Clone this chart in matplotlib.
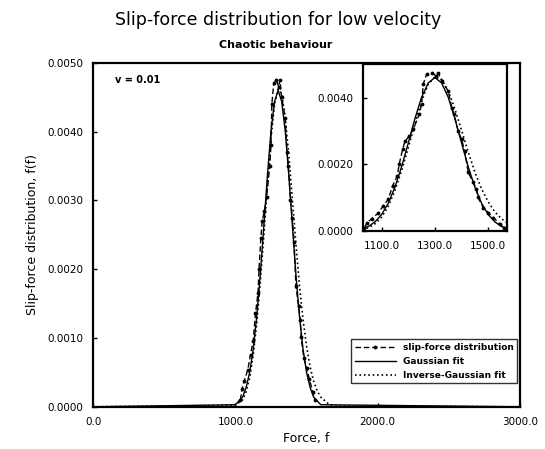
"""
Slip-force distribution for low velocity (chaotic behaviour), v = 0.01.
Main panel with the full force range and an inset zoomed on the peak.
"""

import matplotlib

matplotlib.use("Agg")  # Non-interactive backend
import matplotlib.pyplot as plt

# Measured slip-force distribution (force f, distribution f(f))
dist_force = [
    1035, 1046, 1063, 1087, 1106, 1125, 1141, 1159, 1166, 1179, 1188, 1204,
    1219, 1241, 1250, 1256, 1269, 1288, 1304, 1312, 1325, 1350, 1363, 1372,
    1387, 1400, 1412, 1425, 1444, 1456, 1462, 1481, 1500, 1519, 1544, 1560,
]
dist_value = [
    0.00010, 0.00026, 0.00038, 0.00054, 0.00076, 0.00096, 0.00136, 0.00166,
    0.00201, 0.00246, 0.00270, 0.00285, 0.00305, 0.00350, 0.00380, 0.00440,
    0.00470, 0.00475, 0.00465, 0.00475, 0.00450, 0.00420, 0.00370, 0.00350,
    0.00300, 0.00275, 0.00240, 0.00176, 0.00146, 0.00126, 0.00101, 0.00071,
    0.00056, 0.00041, 0.00021, 0.00010,
]

# Gaussian fit
gauss_force = [
    0, 1000, 1050, 1075, 1100, 1125, 1150, 1175, 1200, 1225, 1250, 1275,
    1300, 1325, 1350, 1375, 1400, 1425, 1450, 1475, 1500, 1525, 1550, 1600,
    3000,
]
gauss_value = [
    0.0, 0.00003, 0.00014, 0.00028, 0.00050, 0.00084, 0.00132, 0.00193,
    0.00264, 0.00337, 0.00401, 0.00444, 0.00460, 0.00444, 0.00401, 0.00337,
    0.00264, 0.00193, 0.00132, 0.00084, 0.00050, 0.00028, 0.00014, 0.00003,
    0.0,
]

# Inverse-Gaussian fit
invg_force = [
    0, 1000, 1050, 1075, 1100, 1125, 1150, 1175, 1200, 1225, 1250, 1275,
    1300, 1325, 1350, 1375, 1400, 1425, 1450, 1475, 1500, 1525, 1550, 1575,
    1600, 1650, 1700, 3000,
]
invg_value = [
    0.0, 0.00002, 0.00010, 0.00022, 0.00042, 0.00075, 0.00122, 0.00182,
    0.00250, 0.00322, 0.00390, 0.00440, 0.00462, 0.00455, 0.00420, 0.00366,
    0.00302, 0.00237, 0.00177, 0.00127, 0.00088, 0.00058, 0.00037, 0.00023,
    0.00014, 0.00005, 0.00001, 0.0,
]

main_xticks = [0, 1000, 2000, 3000]
main_yticks = [0.0, 0.001, 0.002, 0.003, 0.004, 0.005]
inset_xticks = [1100, 1300, 1500]
inset_yticks = [0.0, 0.002, 0.004]

plt.rcParams["font.family"] = ["DejaVu Sans"]


def style_axes(ax, xfmt, yfmt):
    for spine in ax.spines.values():
        spine.set_linewidth(1.6)
        spine.set_color("black")
    ax.tick_params(direction="in", length=3, width=1, labelsize=7.5, pad=7)
    ax.xaxis.set_major_formatter(matplotlib.ticker.FormatStrFormatter(xfmt))
    ax.yaxis.set_major_formatter(matplotlib.ticker.FormatStrFormatter(yfmt))


def draw_curves(ax, with_labels):
    ax.plot(
        dist_force, dist_value, color="black", linestyle=(0, (4, 2)),
        linewidth=1.0, marker=".", markersize=3.5,
        label="slip-force distribution" if with_labels else None,
    )
    ax.plot(
        gauss_force, gauss_value, color="black", linestyle="-", linewidth=1.0,
        label="Gaussian fit" if with_labels else None,
    )
    ax.plot(
        invg_force, invg_value, color="black", linestyle=":", linewidth=1.2,
        label="Inverse-Gaussian fit" if with_labels else None,
    )


fig = plt.figure(figsize=(5.45, 4.49), dpi=100)

# Main panel
ax = fig.add_axes([0.171, 0.094, 0.783, 0.766])
draw_curves(ax, True)
ax.set_xlim(0, 3000)
ax.set_ylim(0, 0.005)
ax.set_xticks(main_xticks)
ax.set_yticks(main_yticks)
style_axes(ax, "%.1f", "%.4f")
ax.set_xlabel("Force, f", fontsize=9, labelpad=4)
ax.set_ylabel("Slip-force distribution, f(f)", fontsize=9, labelpad=6)
ax.text(0.05, 0.95, "v = 0.01", transform=ax.transAxes, fontsize=7,
        fontweight="bold", va="center")

leg = ax.legend(
    loc="lower right", bbox_to_anchor=(1.0, 0.06), fontsize=6.5,
    handlelength=4.5, frameon=True, fancybox=False, borderaxespad=0.3,
    labelspacing=0.55, prop={"weight": "bold", "size": 6.5},
)
leg.get_frame().set_edgecolor("black")
leg.get_frame().set_linewidth(1.0)

# Inset zoomed on the peak
axin = fig.add_axes([0.666, 0.485, 0.264, 0.372])
draw_curves(axin, False)
axin.set_xlim(1030, 1570)
axin.set_ylim(0, 0.005)
axin.set_xticks(inset_xticks)
axin.set_yticks(inset_yticks)
style_axes(axin, "%.1f", "%.4f")

# Titles
fig.text(0.51, 0.955, "Slip-force distribution for low velocity",
         ha="center", va="center", fontsize=12.5)
fig.text(0.505, 0.9, "Chaotic behaviour", ha="center", va="center",
         fontsize=8, fontweight="bold")

fig.savefig("out.png", dpi=100, facecolor="white")
plt.close(fig)
